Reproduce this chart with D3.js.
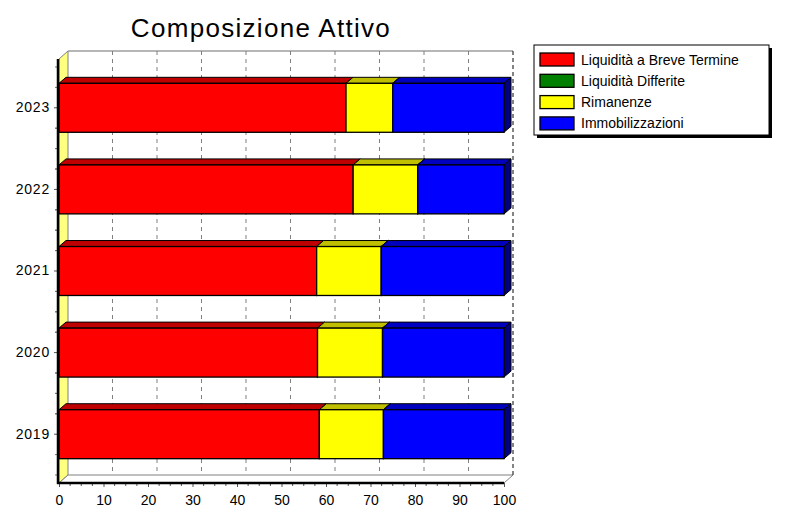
<!DOCTYPE html>
<html>
<head>
<meta charset="utf-8">
<script src="https://cdn.jsdelivr.net/npm/d3@7"></script>
<style>
  html, body { margin: 0; padding: 0; background: #fff; }
  svg { display: block; font-family: "Liberation Sans", Arial, sans-serif; }
</style>
</head>
<body>
<svg id="chart" width="790" height="528"></svg>
<script>
// Asset composition per year (percent of total assets)
const years = ["2019", "2020", "2021", "2022", "2023"];
const liquiditaBreve = [58.5, 58.1, 57.9, 66.1, 64.5];
const liquiditaDifferite = [0, 0, 0, 0, 0];
const rimanenze = [14.4, 14.6, 14.5, 14.5, 10.5];
const immobilizzazioni = [27.1, 27.3, 27.6, 19.4, 25.0];
const seriesNames = ["Liquidità a Breve Termine", "Liquidità Differite", "Rimanenze", "Immobilizzazioni"];
const xTickValues = [0, 10, 20, 30, 40, 50, 60, 70, 80, 90, 100];
const chartTitle = "Composizione Attivo";

// Styling
const seriesColors = ["#ff0000", "#008000", "#ffff00", "#0000ff"];
const topShade = 0.75, sideShade = 0.5;

const svg = d3.select("#chart");

// Front plane of the plot and depth of the 3D walls / bars
const front = { left: 59, right: 504, top: 59, bottom: 483 };
const wallD = { dx: 9, dy: 8 };
const barD = { dx: 7, dy: 6 };

const x = d3.scaleLinear().domain([0, 100]).range([front.left, front.right]);
const y = d3.scaleBand().domain(years).range([475, 67]).paddingInner(0.4).paddingOuter(0.2);

const keys = seriesNames;
const rows = years.map((yr, i) => ({
  year: yr,
  [seriesNames[0]]: liquiditaBreve[i],
  [seriesNames[1]]: liquiditaDifferite[i],
  [seriesNames[2]]: rimanenze[i],
  [seriesNames[3]]: immobilizzazioni[i]
}));
const stacked = d3.stack().keys(keys)(rows);

function shade(c, k) {
  const col = d3.rgb(c);
  return d3.rgb(col.r * k, col.g * k, col.b * k).formatHex();
}

// Title
svg.append("text")
  .attr("x", 261).attr("y", 37)
  .attr("text-anchor", "middle")
  .attr("font-size", 26)
  .attr("letter-spacing", 1.3)
  .attr("fill", "#000")
  .text(chartTitle);

// Walls
const backL = front.left + wallD.dx, backR = front.right + wallD.dx;
const backT = front.top - wallD.dy, backB = front.bottom - wallD.dy;
const walls = svg.append("g");

walls.append("rect")
  .attr("x", backL).attr("y", backT)
  .attr("width", backR - backL).attr("height", backB - backT)
  .attr("fill", "#fff");
walls.append("line")
  .attr("x1", backL).attr("x2", backR).attr("y1", backT).attr("y2", backT)
  .attr("stroke", "#6e6e6e").attr("stroke-width", 1.2);

// Left wall
walls.append("polygon")
  .attr("points", [[front.left, front.top], [backL, backT], [backL, backB], [front.left, front.bottom]].join(" "))
  .attr("fill", "#ffff80").attr("stroke", "#808080").attr("stroke-width", 1);

// Floor
walls.append("polygon")
  .attr("points", [[front.left, front.bottom], [backL, backB], [backR, backB], [front.right, front.bottom]].join(" "))
  .attr("fill", "#fff").attr("stroke", "#808080").attr("stroke-width", 1);

// Vertical grid lines on the back wall
walls.selectAll("line.grid")
  .data(xTickValues.filter(v => v > 0 && v < 100))
  .join("line")
  .attr("class", "grid")
  .attr("x1", d => x(d) + wallD.dx).attr("x2", d => x(d) + wallD.dx)
  .attr("y1", backT).attr("y2", backB)
  .attr("stroke", "#808080").attr("stroke-width", 1)
  .attr("stroke-dasharray", "4,4");

// Right edge of the back wall
walls.append("line")
  .attr("x1", backR).attr("x2", backR).attr("y1", backT).attr("y2", backB)
  .attr("stroke", "#333").attr("stroke-width", 1.2)
  .attr("stroke-dasharray", "4,3");

// Stacked 3D bars
const barG = svg.append("g");
years.forEach((yr) => {
  const y0 = y(yr), y1 = y(yr) + y.bandwidth();
  stacked.forEach((layer, si) => {
    const d = layer.find(p => p.data.year === yr);
    if (d[1] - d[0] <= 0) return;
    const x0 = x(d[0]), x1 = x(d[1]);
    const c = seriesColors[si];
    const g = barG.append("g");
    // top face
    g.append("polygon")
      .attr("points", [[x0, y0], [x0 + barD.dx, y0 - barD.dy], [x1 + barD.dx, y0 - barD.dy], [x1, y0]].join(" "))
      .attr("fill", shade(c, topShade)).attr("stroke", "#000").attr("stroke-width", 1)
      .attr("stroke-linejoin", "round");
    // right face
    g.append("polygon")
      .attr("points", [[x1, y0], [x1 + barD.dx, y0 - barD.dy], [x1 + barD.dx, y1 - barD.dy], [x1, y1]].join(" "))
      .attr("fill", shade(c, sideShade)).attr("stroke", "#000").attr("stroke-width", 1)
      .attr("stroke-linejoin", "round");
    // front face
    g.append("rect")
      .attr("x", x0).attr("y", y0)
      .attr("width", x1 - x0).attr("height", y1 - y0)
      .attr("fill", c).attr("stroke", "#000").attr("stroke-width", 1.3);
  });
});

// Bottom axis
const xAxis = d3.axisBottom(x).tickValues(xTickValues).tickSize(4).tickPadding(8).tickFormat(d3.format("d"));
const xg = svg.append("g").attr("transform", `translate(0,${front.bottom})`).call(xAxis);
xg.select(".domain").remove();
xg.selectAll("line").attr("stroke", "#555");
xg.selectAll("text").attr("font-size", 14).attr("fill", "#000").attr("font-family", "Liberation Sans, Arial, sans-serif");
// minor ticks
const minorX = d3.range(0, 100.01, 2.5).filter(v => v % 10 !== 0);
svg.append("g").selectAll("line")
  .data(minorX).join("line")
  .attr("x1", d => x(d)).attr("x2", d => x(d))
  .attr("y1", front.bottom).attr("y2", front.bottom + 3)
  .attr("stroke", "#555");

// Left axis
const yAxis = d3.axisLeft(y).tickSize(4).tickPadding(4);
const yg = svg.append("g").attr("transform", `translate(${front.left - 1},0)`).call(yAxis);
yg.select(".domain").remove();
yg.selectAll("line").attr("stroke", "#555");
yg.selectAll("text").attr("font-size", 14).attr("letter-spacing", 0.8).attr("fill", "#000")
  .attr("font-family", "Liberation Sans, Arial, sans-serif");
// minor ticks on the category axis
const minorY = [];
years.forEach(yr => {
  const c = y(yr) + y.bandwidth() / 2;
  [-3, -2, -1, 1, 2, 3].forEach(k => minorY.push(c + k * y.step() / 4));
});
svg.append("g").selectAll("line")
  .data(minorY.filter(v => v > front.top && v < front.bottom)).join("line")
  .attr("x1", front.left - 4).attr("x2", front.left - 1)
  .attr("y1", d => d).attr("y2", d => d)
  .attr("stroke", "#777");

// Axis lines
svg.append("line")
  .attr("x1", front.left - 1).attr("x2", front.left - 1)
  .attr("y1", front.top).attr("y2", front.bottom + 1)
  .attr("stroke", "#000").attr("stroke-width", 2.5);
svg.append("line")
  .attr("x1", front.left - 2).attr("x2", front.right)
  .attr("y1", front.bottom).attr("y2", front.bottom)
  .attr("stroke", "#000").attr("stroke-width", 2.5);

// Legend
const lg = svg.append("g");
const lgBox = { x: 534, y: 45, w: 235, h: 90 };
lg.append("rect")
  .attr("x", lgBox.x + 3).attr("y", lgBox.y + 3)
  .attr("width", lgBox.w).attr("height", lgBox.h)
  .attr("fill", "#000");
lg.append("rect")
  .attr("x", lgBox.x).attr("y", lgBox.y)
  .attr("width", lgBox.w).attr("height", lgBox.h)
  .attr("fill", "#fff").attr("stroke", "#000").attr("stroke-width", 1);
const items = lg.selectAll("g.item").data(seriesNames).join("g")
  .attr("class", "item")
  .attr("transform", (d, i) => `translate(${lgBox.x + 6},${lgBox.y + 8 + i * 21.3})`);
items.append("rect")
  .attr("x", 0).attr("y", 0).attr("width", 34).attr("height", 13)
  .attr("fill", (d, i) => seriesColors[i]).attr("stroke", "#000").attr("stroke-width", 1.3);
items.append("text")
  .attr("x", 41).attr("y", 11.5)
  .attr("font-size", 14).attr("fill", "#000")
  .text(d => d);
</script>
</body>
</html>
